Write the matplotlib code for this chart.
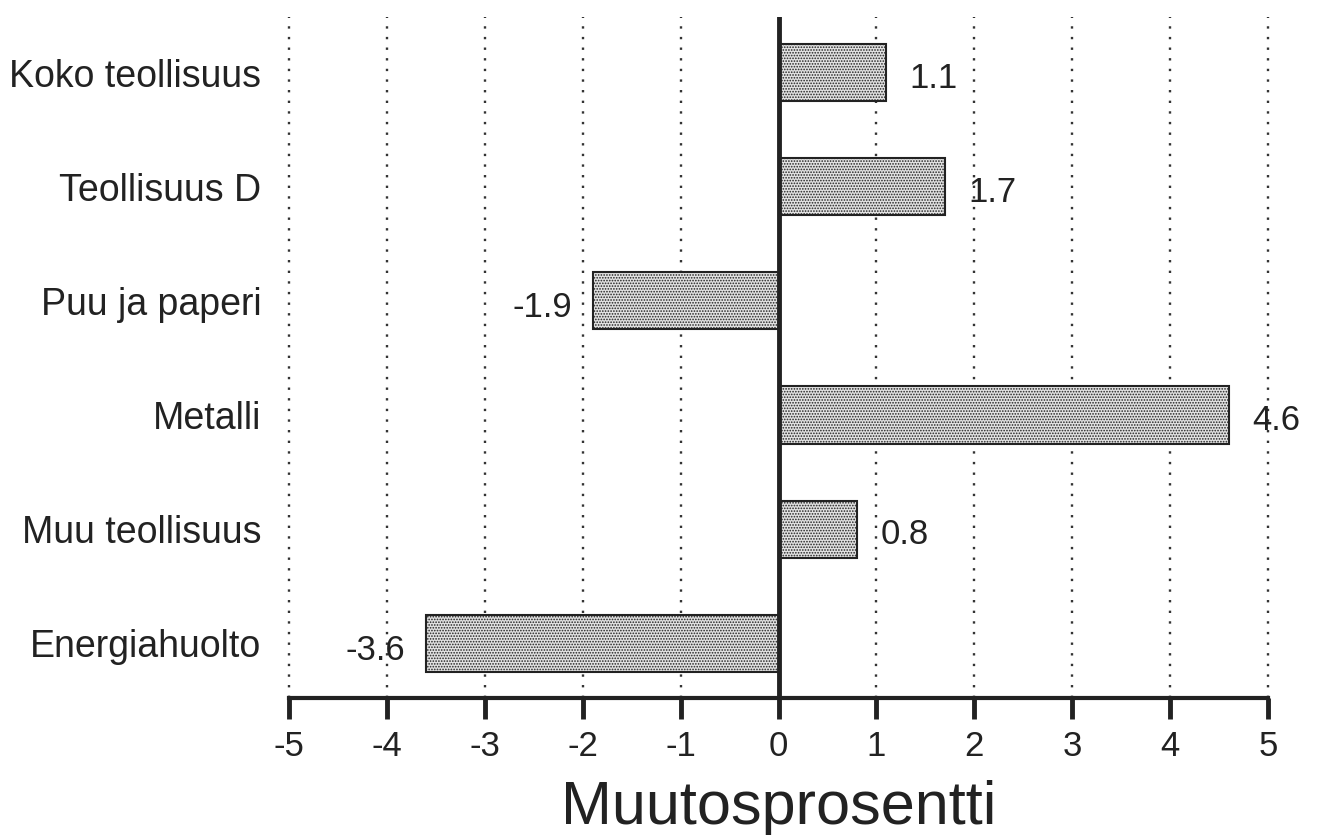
import matplotlib.pyplot as plt
import numpy as np

categories = ["Koko teollisuus", "Teollisuus D", "Puu ja paperi", "Metalli",
              "Muu teollisuus", "Energiahuolto"]
values = [1.1, 1.7, -1.9, 4.6, 0.8, -3.6]
labels = ["1.1", "1.7", "-1.9", "4.6", "0.8", "-3.6"]
xticks = [-5, -4, -3, -2, -1, 0, 1, 2, 3, 4, 5]

plt.rcParams['font.family'] = ['Liberation Sans', 'DejaVu Sans']
plt.rcParams['hatch.color'] = '#777777'
plt.rcParams['hatch.linewidth'] = 0.8

fig = plt.figure(figsize=(13.24, 8.35), dpi=100)
ax = fig.add_axes([0.2183, 0.164, 0.7394, 0.816])

y = np.arange(len(categories))
ax.barh(y, values, height=0.5, color='#e2e2e2', edgecolor='#222222',
        linewidth=1.5, hatch='......', zorder=3)

# dotted grid, solid zero line
for xv in xticks:
	if xv != 0:
		ax.axvline(xv, color='#333333', linestyle=(0, (1, 3.5)), linewidth=1.7,
		           zorder=1, clip_on=False)
ax.axvline(0, color='#222222', linewidth=3.5, zorder=4)

for yi, v, s in zip(y, values, labels):
	if v > 0:
		ax.annotate(s, (v, yi), xytext=(17, -4), textcoords='offset points',
		            ha='left', va='center', fontsize=25, color='#222222')
	else:
		ax.annotate(s, (v, yi), xytext=(-15, -5), textcoords='offset points',
		            ha='right', va='center', fontsize=25, color='#222222')

ax.set_xlim(-5, 5)
ax.set_ylim(5.48, -0.49)
ax.set_xticks(xticks)
ax.set_xticklabels([str(t) for t in xticks], fontsize=25, color='#222222')
ax.set_yticks(y)
ax.set_yticklabels(categories, fontsize=27, color='#222222')
ax.tick_params(axis='y', length=0, pad=20)
ax.tick_params(axis='x', length=15, width=3.5, color='#222222', pad=8)

for side in ['top', 'right', 'left']:
	ax.spines[side].set_visible(False)
ax.spines['bottom'].set_linewidth(3)
ax.spines['bottom'].set_color('#222222')

ax.set_xlabel("Muutosprosentti", fontsize=44, labelpad=12, color='#222222')

fig.savefig("out.png", dpi=100)
